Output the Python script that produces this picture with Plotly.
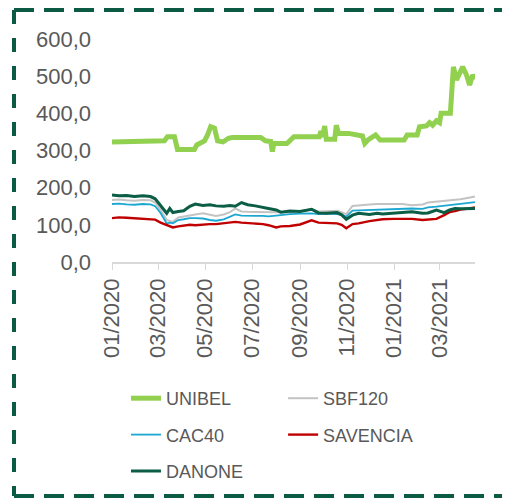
import plotly.graph_objects as go

# UNIBEL (illiquid stock, step-like moves)
unibel_dates = ["2020-01-01", "2020-02-06", "2020-02-07", "2020-03-09", "2020-03-13", "2020-03-22",
                "2020-03-26", "2020-04-17", "2020-04-20", "2020-04-25", "2020-04-30", "2020-05-04",
                "2020-05-08", "2020-05-13", "2020-05-17", "2020-05-24", "2020-05-31", "2020-06-05",
                "2020-07-12", "2020-07-18", "2020-07-25", "2020-07-27", "2020-07-29", "2020-08-15",
                "2020-08-24", "2020-09-26", "2020-09-28", "2020-09-30", "2020-10-03", "2020-10-05",
                "2020-10-16", "2020-10-18", "2020-10-21", "2020-11-03", "2020-11-12", "2020-11-21",
                "2020-11-24", "2020-11-29", "2020-12-08", "2020-12-14", "2021-01-14", "2021-01-18",
                "2021-01-31", "2021-02-03", "2021-02-12", "2021-02-16", "2021-02-20", "2021-02-25",
                "2021-03-01", "2021-03-03", "2021-03-15", "2021-03-19", "2021-03-23", "2021-03-27",
                "2021-03-31", "2021-04-05", "2021-04-09", "2021-04-13", "2021-04-16"]
unibel = [323, 323, 326, 326, 337, 337,
          303, 303, 315, 319, 326, 342,
          364, 360, 326, 323, 333, 335,
          335, 326, 324, 297, 319, 319,
          337, 337, 352, 337, 366, 330,
          330, 368, 346, 346, 342, 339,
          319, 330, 342, 328, 328, 342,
          342, 364, 366, 375, 368, 380,
          375, 400, 400, 525, 490, 505,
          525, 503, 476, 503, 492]

# other series share one date list
dates = ["2020-01-01", "2020-01-10", "2020-01-20", "2020-01-30", "2020-02-10", "2020-02-20",
         "2020-02-26", "2020-03-04", "2020-03-12", "2020-03-16", "2020-03-20", "2020-03-27",
         "2020-04-03", "2020-04-11", "2020-04-18", "2020-04-28", "2020-05-07", "2020-05-15",
         "2020-05-25", "2020-06-02", "2020-06-09", "2020-06-17", "2020-06-25", "2020-07-05",
         "2020-07-15", "2020-07-22", "2020-08-01", "2020-08-07", "2020-08-19", "2020-09-01",
         "2020-09-16", "2020-09-25", "2020-10-05", "2020-10-19", "2020-10-25", "2020-10-31",
         "2020-11-08", "2020-11-16", "2020-11-30", "2020-12-10", "2020-12-17", "2020-12-31",
         "2021-01-12", "2021-01-24", "2021-02-07", "2021-02-14", "2021-02-25", "2021-03-07",
         "2021-03-14", "2021-03-21", "2021-03-28", "2021-04-08", "2021-04-16"]
danone = [180, 178, 179, 176, 178, 176, 170, 152, 131, 144, 133, 136,
          138, 150, 156, 152, 154, 151, 150, 152, 150, 160, 154, 151,
          148, 144, 140, 134, 137, 136, 142, 132, 131, 133, 127, 115,
          126, 131, 128, 131, 129, 131, 134, 135, 131, 132, 140, 133,
          140, 144, 143, 144, 144]
sbf120 = [167, 168, 166, 165, 167, 166, 160, 140, 113, 110, 108, 120,
          123, 126, 128, 131, 127, 124, 128, 134, 144, 136, 135, 135,
          134, 134, 133, 134, 133, 137, 142, 136, 137, 138, 134, 129,
          151, 153, 155, 156, 156, 155, 156, 153, 155, 160, 162, 165,
          166, 168, 169, 173, 176]
cac40 = [156, 157, 155, 154, 156, 155, 150, 132, 104, 106, 104, 113,
         115, 118, 118, 117, 113, 111, 115, 121, 128, 125, 124, 124,
         124, 123, 125, 127, 129, 130, 131, 129, 130, 129, 127, 122,
         138, 139, 140, 141, 142, 143, 144, 144, 143, 147, 149, 151,
         153, 155, 156, 159, 161]
savencia = [118, 120, 119, 118, 117, 116, 114, 106, 99, 95, 93, 96,
            98, 100, 99, 101, 102, 102, 104, 106, 108, 106, 105, 104,
            102, 99, 93, 96, 97, 101, 112, 106, 105, 104, 100, 91,
            102, 104, 110, 113, 115, 116, 117, 116, 113, 114, 116, 126,
            134, 137, 141, 144, 147]

txt = "#595959"
border = "#0b5a43"

fig = go.Figure()
fig.add_trace(go.Scatter(x=unibel_dates, y=unibel, name="UNIBEL", mode="lines",
                         line=dict(color="#92d050", width=5), legend="legend", legendgroup="a"))
fig.add_trace(go.Scatter(x=dates, y=sbf120, name="SBF120", mode="lines",
                         line=dict(color="#c3c3c3", width=2), legend="legend2", legendgroup="b"))
fig.add_trace(go.Scatter(x=dates, y=cac40, name="CAC40", mode="lines",
                         line=dict(color="#1ba7d2", width=1.8), legend="legend", legendgroup="c"))
fig.add_trace(go.Scatter(x=dates, y=savencia, name="SAVENCIA", mode="lines",
                         line=dict(color="#c00000", width=2.4), legend="legend2", legendgroup="d"))
fig.add_trace(go.Scatter(x=dates, y=danone, name="DANONE", mode="lines",
                         line=dict(color="#0b5e45", width=3), legend="legend", legendgroup="e"))

leg = dict(xref="container", yref="container", xanchor="left", yanchor="top",
           orientation="v", tracegroupgap=10, bgcolor="rgba(0,0,0,0)",
           font=dict(size=18, color=txt, family="Liberation Sans, Arial, sans-serif"))

# page body has an 8px margin, so the figure is 502x496
W, H = 502, 496
fig.update_layout(
    width=W, height=H,
    margin=dict(l=104, r=35, t=31, b=242, autoexpand=False),
    paper_bgcolor="white", plot_bgcolor="white",
    separators=",.",
    font=dict(family="Liberation Sans, Arial, sans-serif", color=txt),
    showlegend=True,
    legend=dict(leg, x=0.235, y=0.25),
    legend2=dict(leg, x=0.548, y=0.25),
    xaxis=dict(type="date", range=["2020-01-01", "2021-04-16"],
               tick0="2020-01-01", dtick="M2", tickformat="%m/%Y", tickangle=-90,
               ticks="outside", ticklen=6, tickcolor="#d9d9d9",
               showline=True, linecolor="#d9d9d9", linewidth=1.5,
               showgrid=False, zeroline=False, automargin=False,
               tickfont=dict(size=22, color=txt)),
    yaxis=dict(range=[0, 600], dtick=100, tickformat=".1f",
               showgrid=False, zeroline=False, showline=False,
               ticklabelstandoff=20, automargin=False,
               tickfont=dict(size=22, color=txt)),
)

# dashed green frame around the whole chart
L, R, T, B = 6, 496, 2, 488
px2x = lambda p: (p - 104) / 363
px2y = lambda p: (254 - p) / 223
for x0, y0, x1, y1, d in [(L, T, R, T, "20px,10px"), (L, B, R, B, "20px,10px"),
                          (L, T, L, B, "14px,14px"), (R, T, R, B, "14px,14px")]:
    fig.add_shape(type="line", xref="paper", yref="paper",
                  x0=px2x(x0), x1=px2x(x1), y0=px2y(y0), y1=px2y(y1),
                  line=dict(color=border, width=4, dash=d))

fig.write_html("out.html")
